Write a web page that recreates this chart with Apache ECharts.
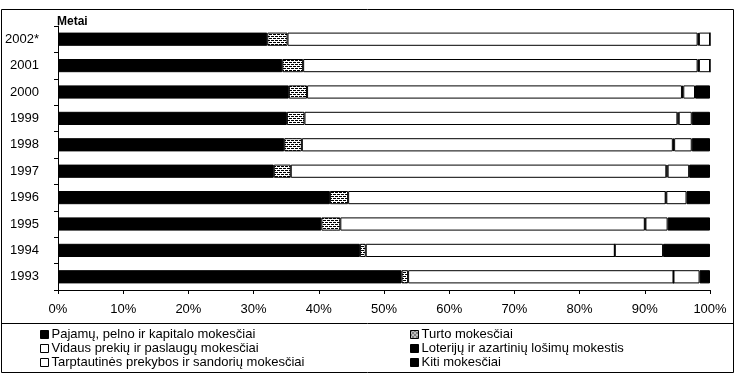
<!DOCTYPE html>
<html>
<head>
<meta charset="utf-8">
<script src="https://cdn.jsdelivr.net/npm/echarts@6/dist/echarts.min.js"></script>
<style>
  html, body { margin: 0; padding: 0; background: #fff; }
  #chart { width: 735px; height: 373px; }
</style>
</head>
<body>
<div id="chart"></div>
<script>
// Tax revenue structure by year, shares in percent
const years = ['1993', '1994', '1995', '1996', '1997', '1998', '1999', '2000', '2001', '2002*'];
const xTicks = [0, 10, 20, 30, 40, 50, 60, 70, 80, 90, 100];

const seriesNames = [
  'Pajamų, pelno ir kapitalo mokesčiai',
  'Turto mokesčiai',
  'Vidaus prekių ir paslaugų mokesčiai',
  'Loterijų ir azartinių lošimų mokestis',
  'Tarptautinės prekybos ir sandorių mokesčiai',
  'Kiti mokesčiai'
];

const pajamu       = [52.7, 46.3, 40.4, 41.7, 33.1, 34.7, 35.1, 35.4, 34.4, 32.1];
const turto        = [1.0, 0.9, 2.9, 2.8, 2.6, 2.7, 2.7, 2.8, 3.2, 3.1];
const vidaus       = [40.7, 38.2, 46.7, 48.7, 57.6, 56.9, 57.2, 57.5, 60.5, 62.9];
const loteriju     = [0, 0, 0.1, 0.1, 0.2, 0.2, 0.2, 0.2, 0.2, 0.2];
const tarptautines = [4.0, 7.4, 3.4, 3.1, 3.3, 2.7, 2.0, 1.8, 1.7, 1.7];
const kiti         = [1.6, 7.2, 6.5, 3.6, 3.2, 2.8, 2.8, 2.3, 0, 0];

// small black-and-white fill pattern for the property tax segment
function makePattern() {
  const c = document.createElement('canvas');
  c.width = 4; c.height = 4;
  const g = c.getContext('2d');
  g.fillStyle = '#ffffff';
  g.fillRect(0, 0, 4, 4);
  g.fillStyle = '#000000';
  g.fillRect(0, 0, 2, 1);
  g.fillRect(2, 2, 2, 1);
  g.fillRect(3, 0, 1, 1);
  g.fillRect(1, 2, 1, 1);
  return c;
}
const pattern = { image: makePattern(), repeat: 'repeat' };

const fills = ['#000000', pattern, '#ffffff', '#000000', '#ffffff', '#000000'];
const values = [pajamu, turto, vidaus, loteriju, tarptautines, kiti];

const FONT = 'Liberation Sans, Arial, sans-serif';

const chart = echarts.init(document.getElementById('chart'), null, { renderer: 'canvas' });

const series = seriesNames.map((name, i) => ({
  name: name,
  type: 'bar',
  stack: 'total',
  data: values[i],
  barCategoryGap: '50%',
  itemStyle: { color: fills[i], borderColor: '#000', borderWidth: 1 },
  emphasis: { disabled: true },
  animation: false
}));

// legend: two columns of three entries, laid out row by row
const legendSlots = [
  { left: 40, top: 328 }, { left: 410, top: 328 },
  { left: 40, top: 342 }, { left: 410, top: 342 },
  { left: 40, top: 356 }, { left: 410, top: 356 }
];
const legends = seriesNames.map((name, i) => ({
  left: legendSlots[i].left,
  top: legendSlots[i].top,
  data: [name],
  icon: 'rect',
  itemWidth: 8,
  itemHeight: 8,
  itemGap: 0,
  padding: 0,
  selectedMode: false,
  textStyle: { fontFamily: FONT, fontSize: 13, color: '#000', padding: [0, 0, 0, -2] },
  itemStyle: { borderColor: '#000', borderWidth: 1 }
}));

chart.setOption({
  animation: false,
  backgroundColor: '#fff',
  grid: { left: 58, right: 25, top: 26, bottom: 83, containLabel: false },
  xAxis: {
    type: 'value',
    min: 0,
    max: 100,
    interval: 10,
    axisLine: { show: true, lineStyle: { color: '#000', width: 1 } },
    axisTick: { show: true, length: 4, lineStyle: { color: '#000' } },
    splitLine: { show: false },
    axisLabel: {
      fontFamily: FONT, fontSize: 13, color: '#000', margin: 13,
      formatter: v => xTicks.includes(v) ? v + '%' : ''
    }
  },
  yAxis: {
    type: 'category',
    data: years,
    name: 'Metai',
    nameLocation: 'end',
    nameGap: -2,
    nameTextStyle: { fontFamily: FONT, fontSize: 12, fontWeight: 'bold', color: '#000', align: 'left', padding: [0, 0, 0, -1] },
    axisLine: { show: true, lineStyle: { color: '#000', width: 1 } },
    axisTick: { show: true, length: 4, lineStyle: { color: '#000' } },
    axisLabel: { fontFamily: FONT, fontSize: 13, color: '#000', margin: 19 }
  },
  legend: legends,
  graphic: [
    { type: 'rect', shape: { x: 1.5, y: 9.5, width: 732, height: 363 }, style: { fill: 'none', stroke: '#000', lineWidth: 1 }, silent: true },
    { type: 'line', shape: { x1: 1.5, y1: 323.5, x2: 733.5, y2: 323.5 }, style: { stroke: '#000', lineWidth: 1 }, silent: true }
  ],
  series: series
});
</script>
</body>
</html>
